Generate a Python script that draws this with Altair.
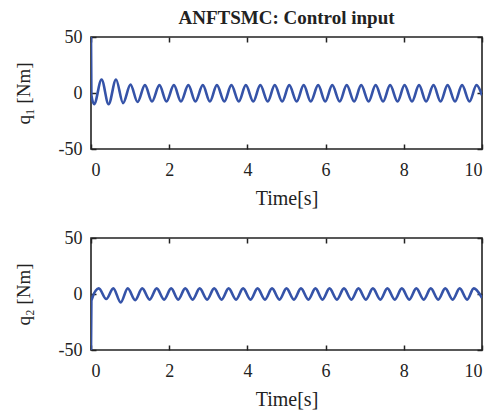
import altair as alt
import pandas as pd

BLUE = "#3553a8"
FONT = "Liberation Serif"

x_ticks = [0, 2, 4, 6, 8, 10]
y_ticks = [-50, 0, 50]

# q1 control input: peaks / troughs
q1_t = [0.0, 0.01, 0.08,
        0.27, 0.45, 0.64, 0.82, 1.01, 1.19, 1.38, 1.56, 1.75, 1.93,
        2.12, 2.30, 2.49, 2.67, 2.86, 3.04, 3.22, 3.41, 3.59, 3.78,
        3.96, 4.15, 4.33, 4.52, 4.70, 4.89, 5.07, 5.26, 5.44, 5.62,
        5.81, 5.99, 6.17, 6.36, 6.54, 6.73, 6.91, 7.10, 7.28, 7.47,
        7.65, 7.84, 8.02, 8.21, 8.39, 8.57, 8.76, 8.94, 9.12, 9.31,
        9.49, 9.68, 9.86, 10.0]
q1_v = [50, -2, -10,
        12, -10, 12, -9, 7.5, -8, 7, -7.5, 7, -7.5,
        7, -7.5, 7, -7.5, 7, -7.5, 7, -7.5, 7, -7.5,
        7, -7.5, 7, -7.5, 7, -7.5, 7, -7.5, 7, -7.5,
        7, -7.5, 7, -7.5, 7, -7.5, 7, -7.5, 7, -7.5,
        7, -7.5, 7, -7.5, 7, -7.5, 7, -7.5, 7, -7.5,
        7, -7.5, 7, -2]

# q2 control input
q2_t = [0.0, 0.01,
        0.20, 0.39, 0.57, 0.76, 0.94, 1.13, 1.31, 1.50, 1.68, 1.87,
        2.05, 2.23, 2.41, 2.60, 2.78, 2.97, 3.15, 3.34, 3.52, 3.71,
        3.89, 4.08, 4.26, 4.45, 4.63, 4.82, 5.00, 5.19, 5.37, 5.56,
        5.74, 5.92, 6.10, 6.29, 6.47, 6.66, 6.84, 7.03, 7.21, 7.40,
        7.58, 7.77, 7.95, 8.14, 8.32, 8.51, 8.69, 8.88, 9.06, 9.25,
        9.43, 9.62, 9.79, 10.0]
q2_v = [-50, -6,
        5, -4.5, 5, -7.5, 5, -5.5, 5, -5, 5, -5,
        5, -5, 5, -5, 5, -5, 5, -5, 5, -5,
        5, -5, 5, -5, 5, -5, 5, -5, 5, -5,
        5, -5, 5, -5, 5, -5, 5, -5, 5, -5,
        5, -5, 5, -5, 5, -5, 5, -5, 5, -5,
        5, -5, 5, -3.5]

assert len(q1_t) == len(q1_v) and len(q2_t) == len(q2_v)

AX = dict(grid=False, domain=False, offset=-5, tickSize=5, tickWidth=1.5,
          tickColor="#222222", labelFont=FONT, labelFontSize=18,
          labelColor="#222222", titleFont=FONT,
          titleColor="#222222", titleFontWeight="normal",
          labelExpr="'' + datum.value")


def panel(t, v, ytitle):
    df = pd.DataFrame({"t": t, "v": v})
    xs = alt.Scale(domain=[0, 10], nice=False, zero=False)
    ys = alt.Scale(domain=[-50, 50], nice=False)
    line = alt.Chart(df).mark_line(
        color=BLUE, strokeWidth=2.6, interpolate="monotone", clip=True
    ).encode(
        x=alt.X("t:Q", scale=xs,
                axis=alt.Axis(orient="bottom", values=x_ticks, title="Time[s]",
                              labelPadding=12, titlePadding=9,
                              titleFontSize=20, **AX)),
        y=alt.Y("v:Q", scale=ys,
                axis=alt.Axis(orient="left", values=y_ticks, title=ytitle,
                              labelPadding=9, titlePadding=25,
                              titleFontSize=19, **AX)),
    )
    mirror = alt.Chart(df).mark_line(opacity=0).encode(
        x=alt.X("t:Q", scale=xs,
                axis=alt.Axis(orient="top", values=x_ticks, labels=False,
                              title=None, **AX)),
        y=alt.Y("v:Q", scale=ys,
                axis=alt.Axis(orient="right", values=y_ticks, labels=False,
                              title=None, **AX)),
    )
    return alt.layer(line, mirror).resolve_axis(
        x="independent", y="independent"
    ).properties(width=391, height=112)


top = panel(q1_t, q1_v, "q\u2081 [Nm]").properties(
    title=alt.Title("ANFTSMC: Control input", font=FONT, fontSize=19,
                    fontWeight="bold", color="#222222", frame="group",
                    anchor="middle", offset=0)
)
bottom = panel(q2_t, q2_v, "q\u2082 [Nm]")

chart = alt.vconcat(top, bottom, spacing=19).properties(
    padding={"left": 5, "top": 0, "right": 2, "bottom": 0}
).configure(
    font=FONT
).configure_view(
    stroke="#222222", strokeWidth=1.6
).configure_axis(
    labelFont=FONT, titleFont=FONT
).configure_title(font=FONT)

chart.save("out.html", embed_options={"renderer": "svg", "actions": False})
